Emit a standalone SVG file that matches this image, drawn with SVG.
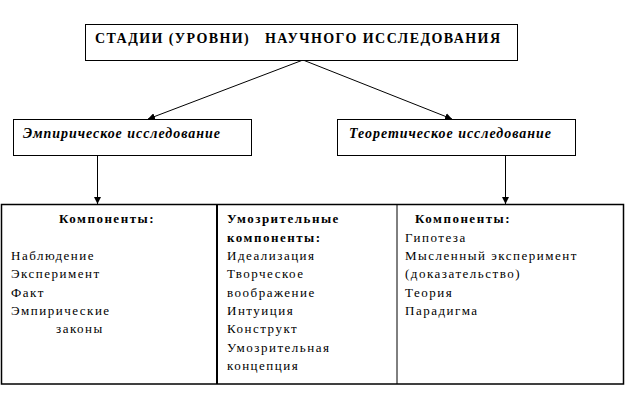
<svg xmlns="http://www.w3.org/2000/svg" width="638" height="409" viewBox="0 0 638 409">
<style>
.box{fill:#fff;stroke:#000;stroke-width:1}
text{font-family:'Liberation Serif','DejaVu Serif','Times New Roman',serif;fill:#000}
.title{font-size:14px;font-weight:bold;white-space:pre}
.lab{font-size:14px;font-weight:bold;font-style:italic}
.body{font-size:13px;letter-spacing:1.5px}
.hd{font-size:13px;font-weight:bold;letter-spacing:1.5px}
.c{stroke:#000;stroke-width:1;fill:none}
</style>
<defs>
<marker id="ar" viewBox="0 0 10 10" refX="10" refY="5" markerWidth="7" markerHeight="7" markerUnits="userSpaceOnUse" orient="auto">
<path d="M0,0 L10,5 L0,10 z" fill="#000"/>
</marker>
</defs>
<rect width="638" height="409" fill="#fff"/>
<g id="connectors">
<line class="c" x1="303" y1="60" x2="148" y2="119" marker-end="url(#ar)"/>
<line class="c" x1="303" y1="60" x2="452" y2="119" marker-end="url(#ar)"/>
<line class="c" x1="97.5" y1="156" x2="97.5" y2="204" marker-end="url(#ar)"/>
<line class="c" x1="505.5" y1="156" x2="505.5" y2="204" marker-end="url(#ar)"/>
</g>
<g id="top">
<rect class="box" x="85.5" y="24.5" width="432" height="36"/>
<text class="title" x="95" y="43" xml:space="preserve" textLength="405" lengthAdjust="spacing">СТАДИИ (УРОВНИ)   НАУЧНОГО ИССЛЕДОВАНИЯ</text>
</g>
<g id="empirical">
<rect class="box" x="13.5" y="119.5" width="238" height="36"/>
<text class="lab" x="23" y="138" textLength="197" lengthAdjust="spacing">Эмпирическое исследование</text>
</g>
<g id="theoretical">
<rect class="box" x="337.5" y="119.5" width="238" height="36"/>
<text class="lab" x="349" y="138" textLength="202" lengthAdjust="spacing">Теоретическое исследование</text>
</g>
<g id="table">
<rect x="1.5" y="204.5" width="622" height="179.5" fill="none" stroke="#000" stroke-width="1.5"/>
<line x1="217" y1="204" x2="217" y2="384" stroke="#000" stroke-width="2"/>
<line x1="397" y1="204" x2="397" y2="384" stroke="#000" stroke-width="1"/>
</g>
<g id="col-empirical">
<text class="hd" x="59" y="223">Компоненты:</text>
<text class="body" x="11" y="260">Наблюдение</text>
<text class="body" x="11" y="278.3">Эксперимент</text>
<text class="body" x="11" y="296.7">Факт</text>
<text class="body" x="11" y="315">Эмпирические</text>
<text class="body" x="56" y="333.3">законы</text>
</g>
<g id="col-speculative">
<text class="hd" x="227" y="223">Умозрительные</text>
<text class="hd" x="227" y="241.7">компоненты:</text>
<text class="body" x="227" y="260">Идеализация</text>
<text class="body" x="227" y="278.3">Творческое</text>
<text class="body" x="227" y="296.7">воображение</text>
<text class="body" x="227" y="315">Интуиция</text>
<text class="body" x="227" y="333.3">Конструкт</text>
<text class="body" x="227" y="351.7">Умозрительная</text>
<text class="body" x="227" y="370">концепция</text>
</g>
<g id="col-theoretical">
<text class="hd" x="415" y="223">Компоненты:</text>
<text class="body" x="405" y="241.7">Гипотеза</text>
<text class="body" x="405" y="260">Мысленный эксперимент</text>
<text class="body" x="405" y="278.3">(доказательство)</text>
<text class="body" x="405" y="296.7">Теория</text>
<text class="body" x="405" y="315">Парадигма</text>
</g>
</svg>
